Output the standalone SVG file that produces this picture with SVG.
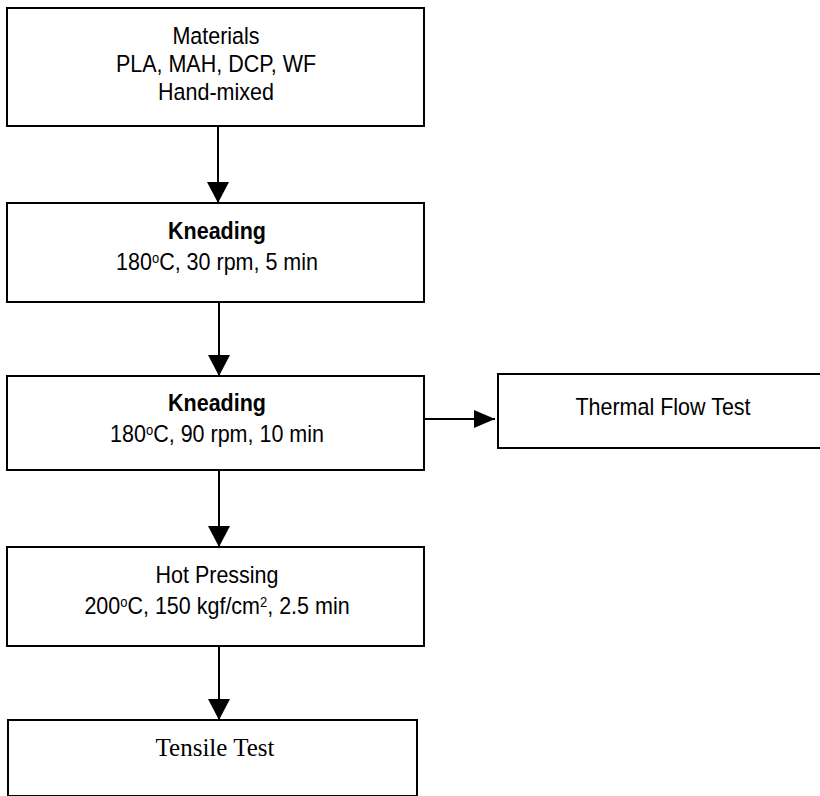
<svg xmlns="http://www.w3.org/2000/svg" width="820" height="796" viewBox="0 0 820 796">
<style>
.box{fill:#fff;stroke:#000;stroke-width:2}
.t{font-family:"Liberation Sans",Arial,sans-serif;font-size:21.5px;fill:#000;text-anchor:middle}
.b{font-weight:bold}
.s{font-family:"Liberation Serif","Times New Roman",serif;font-size:25px;fill:#000;text-anchor:middle}
.sup{font-size:13px}
.c{stroke:#000;stroke-width:2;fill:none}
</style>
<defs>
<marker id="ah" markerUnits="userSpaceOnUse" markerWidth="22" markerHeight="22" refX="21" refY="11" orient="auto" viewBox="0 0 22 22">
<path d="M0,0 L21,11 L0,22 Z" fill="#000"/>
</marker>
<marker id="ahs" markerUnits="userSpaceOnUse" markerWidth="22" markerHeight="20" refX="21" refY="9" orient="auto" viewBox="0 0 22 18">
<path d="M0,0 L21,9 L0,18 Z" fill="#000"/>
</marker>
</defs>
<rect width="820" height="796" fill="#fff"/>
<g id="connectors">
<line class="c" x1="218" y1="126" x2="218" y2="203" marker-end="url(#ah)"/>
<line class="c" x1="219" y1="302" x2="219" y2="376" marker-end="url(#ah)"/>
<line class="c" x1="219" y1="470" x2="219" y2="547" marker-end="url(#ah)"/>
<line class="c" x1="219" y1="646" x2="219" y2="720" marker-end="url(#ah)"/>
<line class="c" x1="424" y1="419" x2="495" y2="419" marker-end="url(#ahs)"/>
</g>
<g id="materials">
<rect class="box" x="7" y="8" width="417" height="118"/>
<text class="t" transform="translate(216,44) scale(1,1.08)">Materials</text>
<text class="t" transform="translate(216,72) scale(1,1.08)">PLA, MAH, DCP, WF</text>
<text class="t" transform="translate(216,100) scale(1,1.08)">Hand-mixed</text>
</g>
<g id="kneading1">
<rect class="box" x="7" y="203" width="417" height="99"/>
<text class="t b" transform="translate(217,239) scale(1,1.08)">Kneading</text>
<text class="t" transform="translate(217,270) scale(1,1.08)">180<tspan class="sup" baseline-shift="super">o</tspan>C, 30 rpm, 5 min</text>
</g>
<g id="kneading2">
<rect class="box" x="7" y="376" width="417" height="94"/>
<text class="t b" transform="translate(217,411) scale(1,1.08)">Kneading</text>
<text class="t" transform="translate(217,442) scale(1,1.08)">180<tspan class="sup" baseline-shift="super">o</tspan>C, 90 rpm, 10 min</text>
</g>
<g id="thermal">
<rect class="box" x="498" y="374" width="340" height="74"/>
<text class="t" transform="translate(663,415) scale(1,1.08)">Thermal Flow Test</text>
</g>
<g id="hotpressing">
<rect class="box" x="7" y="547" width="417" height="99"/>
<text class="t" transform="translate(217,583) scale(1,1.08)">Hot Pressing</text>
<text class="t" transform="translate(217,614) scale(1,1.08)">200<tspan class="sup" baseline-shift="super">o</tspan>C, 150 kgf/cm<tspan class="sup" baseline-shift="super">2</tspan>, 2.5 min</text>
</g>
<g id="tensile">
<rect class="box" x="8" y="720" width="409" height="76"/>
<text class="s" x="215" y="756">Tensile Test</text>
</g>
</svg>
